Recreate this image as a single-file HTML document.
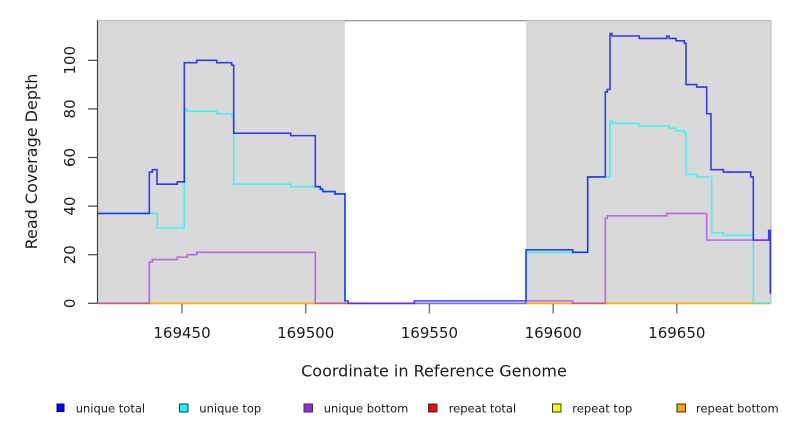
<!DOCTYPE html>
<html>
<head>
<meta charset="utf-8">
<style>
  html, body { margin: 0; padding: 0; background: #ffffff; }
  svg { display: block; }
  text { font-family: "DejaVu Sans", "Liberation Sans", sans-serif; fill: #1a1a1a; }
</style>
</head>
<body>
<svg width="792" height="432" viewBox="0 0 792 432" xmlns="http://www.w3.org/2000/svg">
  <rect x="0" y="0" width="792" height="432" fill="#ffffff"/>

  <!-- plot frame top line (white region) -->
  <line x1="97.5" y1="20.7" x2="771" y2="20.7" stroke="#888888" stroke-width="1.2"/>
  <!-- shaded regions -->
  <rect x="97.5" y="20.2" width="247.5" height="283.1" fill="#d9d9d9"/>
  <rect x="526" y="20.2" width="245" height="283.1" fill="#d9d9d9"/>
  <line x1="97.5" y1="20.7" x2="345" y2="20.7" stroke="#bdbdbd" stroke-width="1.2"/>
  <line x1="526" y1="20.7" x2="771" y2="20.7" stroke="#bdbdbd" stroke-width="1.2"/>
  <line x1="771" y1="20.7" x2="771" y2="303.3" stroke="#bdbdbd" stroke-width="1.2"/>

  <!-- data series (x in px, y in data units) -->
  <g transform="matrix(1 0 0 -2.43 0 303.3)" fill="none" stroke-width="1.6" stroke-linejoin="miter" stroke-opacity="0.78">
    <path vector-effect="non-scaling-stroke" stroke="#ff0000" d="M97.5 0 H770.5"/>
    <path vector-effect="non-scaling-stroke" stroke="#ffff00" d="M97.5 0 H770.5"/>
    <path vector-effect="non-scaling-stroke" stroke="#ffa500" d="M97.5 0 H770.5"/>
    <path vector-effect="non-scaling-stroke" stroke="#00ffff" stroke-opacity="0.7" d="M97.5 37 H157.3 V31 H184.3 V80 H186.7 V79 H216.7 V78 H231.7 V77 H233.7 V49 H290.7 V48 H320.3 V47 H322.7 V46 H335 V45 H345 V0 H526 V21 H587.7 V52 H610 V75 H612.3 V74 H639.3 V73 H669.3 V72 H676 V71 H684.3 V70 H686 V53 H696.7 V52 H711.7 V29 H723.3 V28 H753.3 V0 H770.5"/>
    <path vector-effect="non-scaling-stroke" stroke="#0000ff" stroke-opacity="0.75" d="M97.5 37 H149.3 V54 H152.3 V55 H157 V49 H177.3 V50 H184.3 V99 H196.7 V100 H216.7 V99 H231.7 V98 H233.7 V70 H290.7 V69 H315.3 V48 H320.3 V47 H322.7 V46 H335 V45 H345 V1 H348 V0 H414.3 V1 H526 V22 H572.7 V21 H587.7 V52 H605.3 V87 H607.3 V88 H610 V111 H612 V110 H639.3 V109 H666.7 V110 H669 V109 H676 V108 H684.3 V107 H686 V90 H696.7 V89 H706.7 V78 H711 V55 H723.3 V54 H750.7 V52 H753.3 V26 H768.7 V30 H770.3 V4"/>
    <path vector-effect="non-scaling-stroke" stroke="#a020f0" stroke-opacity="0.6" d="M97.5 0 H149.3 V17 H152.3 V18 H177.3 V19 H187.3 V20 H196.7 V21 H315.3 V0 H526 V1 H572.7 V0 H605.3 V35 H607.3 V36 H666.7 V37 H706.7 V26 H770.5"/>
  </g>

  <!-- y axis -->
  <line x1="97.5" y1="20.2" x2="97.5" y2="303.3" stroke="#444444" stroke-width="1.2"/>
  <g stroke="#444444" stroke-width="1.2">
    <line x1="88" y1="303.3" x2="97.5" y2="303.3"/>
    <line x1="88" y1="254.7" x2="97.5" y2="254.7"/>
    <line x1="88" y1="206.1" x2="97.5" y2="206.1"/>
    <line x1="88" y1="157.5" x2="97.5" y2="157.5"/>
    <line x1="88" y1="108.9" x2="97.5" y2="108.9"/>
    <line x1="88" y1="60.3" x2="97.5" y2="60.3"/>
  </g>
  <g font-size="15" text-anchor="middle">
    <text transform="translate(75,303.3) rotate(-90)">0</text>
    <text transform="translate(75,254.7) rotate(-90)">20</text>
    <text transform="translate(75,206.1) rotate(-90)">40</text>
    <text transform="translate(75,157.5) rotate(-90)">60</text>
    <text transform="translate(75,108.9) rotate(-90)">80</text>
    <text transform="translate(75,60.3) rotate(-90)">100</text>
  </g>
  <text transform="translate(37,161.5) rotate(-90)" font-size="16" text-anchor="middle">Read Coverage Depth</text>

  <!-- x axis -->
  <g stroke="#7a7a7a" stroke-width="1.5">
    <line x1="182" y1="304" x2="182" y2="313.5"/>
    <line x1="305.7" y1="304" x2="305.7" y2="313.5"/>
    <line x1="429.4" y1="304" x2="429.4" y2="313.5"/>
    <line x1="553.2" y1="304" x2="553.2" y2="313.5"/>
    <line x1="676.8" y1="304" x2="676.8" y2="313.5"/>
  </g>
  <g font-size="15" text-anchor="middle">
    <text x="182" y="338">169450</text>
    <text x="305.7" y="338">169500</text>
    <text x="429.4" y="338">169550</text>
    <text x="553.2" y="338">169600</text>
    <text x="676.8" y="338">169650</text>
  </g>
  <text x="434" y="376.5" font-size="16" text-anchor="middle">Coordinate in Reference Genome</text>

  <!-- legend -->
  <g stroke="#333333" stroke-width="1">
    <rect x="57" y="404" width="7" height="7.5" fill="#0000ff" stroke="#0000aa"/>
    <rect x="179.5" y="404" width="8.5" height="8" fill="#00ffff"/>
    <rect x="304" y="404" width="8.5" height="8" fill="#a020f0"/>
    <rect x="428.5" y="404" width="8.5" height="8" fill="#ff0000"/>
    <rect x="552.5" y="404" width="8.5" height="8" fill="#ffff00"/>
    <rect x="677" y="404" width="8.5" height="8" fill="#ffa500"/>
  </g>
  <g font-size="11.5">
    <text x="75.7" y="412.7">unique total</text>
    <text x="199.3" y="412.7">unique top</text>
    <text x="323.7" y="412.7">unique bottom</text>
    <text x="448.7" y="412.7">repeat total</text>
    <text x="572.3" y="412.7">repeat top</text>
    <text x="696" y="412.7">repeat bottom</text>
  </g>
</svg>
</body>
</html>
